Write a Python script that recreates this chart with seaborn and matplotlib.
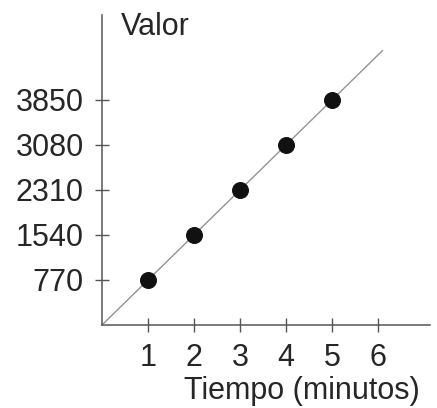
import matplotlib
matplotlib.use("Agg")
import matplotlib.pyplot as plt
import seaborn as sns
import pandas as pd

sns.set_style("white")
plt.rcParams['font.family'] = ['Liberation Sans', 'DejaVu Sans']

tiempo = [1, 2, 3, 4, 5]
valor = [770, 1540, 2310, 3080, 3850]
line_x = [0, 6.1]
line_y = [0, 6.1 * 770]
x_ticks = [1, 2, 3, 4, 5, 6]
y_ticks = [770, 1540, 2310, 3080, 3850]

df = pd.DataFrame({"Tiempo": tiempo, "Valor": valor})
line_df = pd.DataFrame({"x": line_x, "y": line_y})

fig = plt.figure(figsize=(4.37, 4.08), dpi=100)
ax = fig.add_axes([102/437, 83/408, 328/437, 310/408])

sns.lineplot(data=line_df, x="x", y="y", ax=ax, color="#939393", linewidth=1.0)
sns.scatterplot(data=df, x="Tiempo", y="Valor", ax=ax, color="#111111", s=130,
                edgecolor="#111111", linewidth=0.8, zorder=3)

ax.set_xlim(0, 7.13)
ax.set_ylim(0, 5304)
ax.set_xticks(x_ticks)
ax.set_yticks(y_ticks)
ax.set_xticklabels([str(t) for t in x_ticks])
ax.set_yticklabels([str(t) for t in y_ticks])
for s in ["top", "right"]:
    ax.spines[s].set_visible(False)
for s in ["left", "bottom"]:
    ax.spines[s].set_color("#555555")
    ax.spines[s].set_linewidth(1.1)
ax.tick_params(axis="both", direction="inout", length=10, width=1.0, color="#555555",
               labelsize=22, labelcolor="#262626", pad=8, bottom=True, left=True)
ax.set_xlabel("")
ax.set_ylabel("")

fig.text(121/437, 1 - 35/408, "Valor", fontsize=22, color="#262626",
         ha="left", va="baseline")
fig.text(302/437, 1 - 399/408, "Tiempo (minutos)", fontsize=22, color="#262626",
         ha="center", va="baseline")

fig.savefig("out.png", dpi=100)
